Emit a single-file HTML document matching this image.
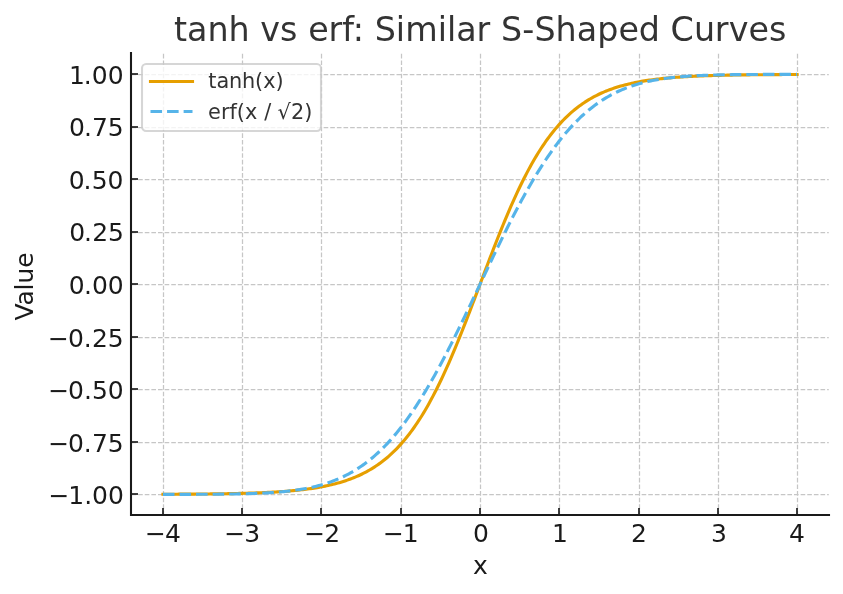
<!DOCTYPE html>
<html lang="en"><head><meta charset="utf-8"><title>tanh vs erf: Similar S-Shaped Curves</title>
<style>html,body{margin:0;padding:0;background:#fff}svg{display:block}</style></head>
<body>
<svg width="843" height="594" viewBox="0 0 843 594" font-family="'DejaVu Sans', 'Liberation Sans', sans-serif">
<rect width="843" height="594" fill="#fff"/>
<g fill="none" stroke="#c6c6c6" stroke-width="1.25" stroke-dasharray="4.625 2">
<path d="M163.5 515.5V53.5"/>
<path d="M242.5 515.5V53.5"/>
<path d="M321.5 515.5V53.5"/>
<path d="M401.5 515.5V53.5"/>
<path d="M480.5 515.5V53.5"/>
<path d="M559.5 515.5V53.5"/>
<path d="M639.5 515.5V53.5"/>
<path d="M718.5 515.5V53.5"/>
<path d="M797.5 515.5V53.5"/>
<path d="M131.5 494.5H828.75"/>
<path d="M131.5 442.5H828.75"/>
<path d="M131.5 389.5H828.75"/>
<path d="M131.5 337.5H828.75"/>
<path d="M131.5 284.5H828.75"/>
<path d="M131.5 232.5H828.75"/>
<path d="M131.5 179.5H828.75"/>
<path d="M131.5 127.5H828.75"/>
<path d="M131.5 74.5H828.75"/>
</g>
<g fill="none" stroke="#1a1a1a" stroke-width="1.667">
<path d="M163 515v-7"/>
<path d="M242 515v-7"/>
<path d="M321 515v-7"/>
<path d="M401 515v-7"/>
<path d="M480 515v-7"/>
<path d="M559 515v-7"/>
<path d="M639 515v-7"/>
<path d="M718 515v-7"/>
<path d="M797 515v-7"/>
<path d="M131 494h7"/>
<path d="M131 442h7"/>
<path d="M131 389h7"/>
<path d="M131 337h7"/>
<path d="M131 284h7"/>
<path d="M131 232h7"/>
<path d="M131 179h7"/>
<path d="M131 127h7"/>
<path d="M131 74h7"/>
</g>
<path d="M162.95 494.25 L164.54 494.24 L166.13 494.24 L167.72 494.23 L169.31 494.22 L170.90 494.22 L172.49 494.21 L174.08 494.20 L175.67 494.19 L177.26 494.19 L178.85 494.18 L180.44 494.17 L182.02 494.16 L183.61 494.15 L185.20 494.14 L186.79 494.13 L188.38 494.12 L189.97 494.11 L191.56 494.10 L193.15 494.09 L194.74 494.07 L196.33 494.06 L197.92 494.05 L199.51 494.03 L201.10 494.02 L202.68 494.00 L204.27 493.99 L205.86 493.97 L207.45 493.96 L209.04 493.94 L210.63 493.92 L212.22 493.90 L213.81 493.88 L215.40 493.86 L216.99 493.84 L218.58 493.82 L220.17 493.79 L221.75 493.77 L223.34 493.74 L224.93 493.72 L226.52 493.69 L228.11 493.66 L229.70 493.63 L231.29 493.60 L232.88 493.57 L234.47 493.53 L236.06 493.50 L237.65 493.46 L239.24 493.42 L240.83 493.39 L242.41 493.34 L244.00 493.30 L245.59 493.26 L247.18 493.21 L248.77 493.16 L250.36 493.11 L251.95 493.06 L253.54 493.01 L255.13 492.95 L256.72 492.89 L258.31 492.83 L259.90 492.77 L261.48 492.70 L263.07 492.63 L264.66 492.56 L266.25 492.49 L267.84 492.41 L269.43 492.33 L271.02 492.25 L272.61 492.16 L274.20 492.07 L275.79 491.97 L277.38 491.88 L278.97 491.77 L280.56 491.67 L282.14 491.56 L283.73 491.44 L285.32 491.32 L286.91 491.20 L288.50 491.07 L290.09 490.93 L291.68 490.79 L293.27 490.65 L294.86 490.49 L296.45 490.34 L298.04 490.17 L299.63 490.00 L301.21 489.82 L302.80 489.64 L304.39 489.45 L305.98 489.25 L307.57 489.04 L309.16 488.82 L310.75 488.60 L312.34 488.37 L313.93 488.12 L315.52 487.87 L317.11 487.61 L318.70 487.34 L320.29 487.05 L321.87 486.76 L323.46 486.45 L325.05 486.13 L326.64 485.80 L328.23 485.46 L329.82 485.10 L331.41 484.73 L333.00 484.35 L334.59 483.94 L336.18 483.53 L337.77 483.10 L339.36 482.65 L340.94 482.18 L342.53 481.70 L344.12 481.19 L345.71 480.67 L347.30 480.13 L348.89 479.57 L350.48 478.98 L352.07 478.38 L353.66 477.75 L355.25 477.09 L356.84 476.42 L358.43 475.71 L360.02 474.98 L361.60 474.23 L363.19 473.45 L364.78 472.63 L366.37 471.79 L367.96 470.92 L369.55 470.01 L371.14 469.08 L372.73 468.11 L374.32 467.10 L375.91 466.06 L377.50 464.98 L379.09 463.86 L380.67 462.71 L382.26 461.52 L383.85 460.28 L385.44 459.00 L387.03 457.68 L388.62 456.31 L390.21 454.90 L391.80 453.44 L393.39 451.94 L394.98 450.38 L396.57 448.78 L398.16 447.12 L399.75 445.41 L401.33 443.65 L402.92 441.84 L404.51 439.97 L406.10 438.04 L407.69 436.05 L409.28 434.01 L410.87 431.91 L412.46 429.74 L414.05 427.52 L415.64 425.23 L417.23 422.88 L418.82 420.47 L420.40 418.00 L421.99 415.46 L423.58 412.86 L425.17 410.19 L426.76 407.46 L428.35 404.66 L429.94 401.80 L431.53 398.87 L433.12 395.88 L434.71 392.83 L436.30 389.71 L437.89 386.52 L439.48 383.28 L441.06 379.97 L442.65 376.60 L444.24 373.17 L445.83 369.69 L447.42 366.14 L449.01 362.54 L450.60 358.89 L452.19 355.18 L453.78 351.42 L455.37 347.62 L456.96 343.77 L458.55 339.87 L460.13 335.93 L461.72 331.96 L463.31 327.95 L464.90 323.90 L466.49 319.82 L468.08 315.72 L469.67 311.59 L471.26 307.44 L472.85 303.27 L474.44 299.09 L476.03 294.89 L477.62 290.69 L479.21 286.48 L480.79 282.27 L482.38 278.06 L483.97 273.86 L485.56 269.66 L487.15 265.48 L488.74 261.31 L490.33 257.16 L491.92 253.03 L493.51 248.93 L495.10 244.85 L496.69 240.80 L498.28 236.79 L499.87 232.82 L501.45 228.88 L503.04 224.98 L504.63 221.13 L506.22 217.33 L507.81 213.57 L509.40 209.86 L510.99 206.21 L512.58 202.61 L514.17 199.06 L515.76 195.58 L517.35 192.15 L518.94 188.78 L520.52 185.47 L522.11 182.23 L523.70 179.04 L525.29 175.92 L526.88 172.87 L528.47 169.88 L530.06 166.95 L531.65 164.09 L533.24 161.29 L534.83 158.56 L536.42 155.89 L538.01 153.29 L539.60 150.75 L541.18 148.28 L542.77 145.87 L544.36 143.52 L545.95 141.23 L547.54 139.01 L549.13 136.84 L550.72 134.74 L552.31 132.70 L553.90 130.71 L555.49 128.78 L557.08 126.91 L558.67 125.10 L560.25 123.34 L561.84 121.63 L563.43 119.97 L565.02 118.37 L566.61 116.81 L568.20 115.31 L569.79 113.85 L571.38 112.44 L572.97 111.07 L574.56 109.75 L576.15 108.47 L577.74 107.23 L579.33 106.04 L580.91 104.89 L582.50 103.77 L584.09 102.69 L585.68 101.65 L587.27 100.64 L588.86 99.67 L590.45 98.74 L592.04 97.83 L593.63 96.96 L595.22 96.12 L596.81 95.30 L598.40 94.52 L599.98 93.77 L601.57 93.04 L603.16 92.33 L604.75 91.66 L606.34 91.00 L607.93 90.37 L609.52 89.77 L611.11 89.18 L612.70 88.62 L614.29 88.08 L615.88 87.56 L617.47 87.05 L619.06 86.57 L620.64 86.10 L622.23 85.65 L623.82 85.22 L625.41 84.81 L627.00 84.40 L628.59 84.02 L630.18 83.65 L631.77 83.29 L633.36 82.95 L634.95 82.62 L636.54 82.30 L638.13 81.99 L639.71 81.70 L641.30 81.41 L642.89 81.14 L644.48 80.88 L646.07 80.63 L647.66 80.38 L649.25 80.15 L650.84 79.93 L652.43 79.71 L654.02 79.50 L655.61 79.30 L657.20 79.11 L658.79 78.93 L660.37 78.75 L661.96 78.58 L663.55 78.41 L665.14 78.26 L666.73 78.10 L668.32 77.96 L669.91 77.82 L671.50 77.68 L673.09 77.55 L674.68 77.43 L676.27 77.31 L677.86 77.19 L679.44 77.08 L681.03 76.98 L682.62 76.87 L684.21 76.78 L685.80 76.68 L687.39 76.59 L688.98 76.50 L690.57 76.42 L692.16 76.34 L693.75 76.26 L695.34 76.19 L696.93 76.12 L698.52 76.05 L700.10 75.98 L701.69 75.92 L703.28 75.86 L704.87 75.80 L706.46 75.74 L708.05 75.69 L709.64 75.64 L711.23 75.59 L712.82 75.54 L714.41 75.49 L716.00 75.45 L717.59 75.41 L719.17 75.36 L720.76 75.33 L722.35 75.29 L723.94 75.25 L725.53 75.22 L727.12 75.18 L728.71 75.15 L730.30 75.12 L731.89 75.09 L733.48 75.06 L735.07 75.03 L736.66 75.01 L738.25 74.98 L739.83 74.96 L741.42 74.93 L743.01 74.91 L744.60 74.89 L746.19 74.87 L747.78 74.85 L749.37 74.83 L750.96 74.81 L752.55 74.79 L754.14 74.78 L755.73 74.76 L757.32 74.75 L758.90 74.73 L760.49 74.72 L762.08 74.70 L763.67 74.69 L765.26 74.68 L766.85 74.66 L768.44 74.65 L770.03 74.64 L771.62 74.63 L773.21 74.62 L774.80 74.61 L776.39 74.60 L777.98 74.59 L779.56 74.58 L781.15 74.57 L782.74 74.56 L784.33 74.56 L785.92 74.55 L787.51 74.54 L789.10 74.53 L790.69 74.53 L792.28 74.52 L793.87 74.51 L795.46 74.51 L797.05 74.50" fill="none" stroke="#e69f00" stroke-width="3.125" stroke-linecap="square" stroke-linejoin="round"/>
<path d="M162.95 494.37 L164.54 494.37 L166.13 494.37 L167.72 494.37 L169.31 494.37 L170.90 494.37 L172.49 494.37 L174.08 494.36 L175.67 494.36 L177.26 494.36 L178.85 494.36 L180.44 494.36 L182.02 494.35 L183.61 494.35 L185.20 494.35 L186.79 494.34 L188.38 494.34 L189.97 494.34 L191.56 494.33 L193.15 494.33 L194.74 494.32 L196.33 494.32 L197.92 494.31 L199.51 494.30 L201.10 494.30 L202.68 494.29 L204.27 494.28 L205.86 494.27 L207.45 494.27 L209.04 494.26 L210.63 494.25 L212.22 494.24 L213.81 494.22 L215.40 494.21 L216.99 494.20 L218.58 494.18 L220.17 494.17 L221.75 494.15 L223.34 494.14 L224.93 494.12 L226.52 494.10 L228.11 494.08 L229.70 494.05 L231.29 494.03 L232.88 494.01 L234.47 493.98 L236.06 493.95 L237.65 493.92 L239.24 493.89 L240.83 493.85 L242.41 493.82 L244.00 493.78 L245.59 493.74 L247.18 493.69 L248.77 493.65 L250.36 493.60 L251.95 493.55 L253.54 493.49 L255.13 493.43 L256.72 493.37 L258.31 493.31 L259.90 493.24 L261.48 493.16 L263.07 493.09 L264.66 493.00 L266.25 492.92 L267.84 492.83 L269.43 492.73 L271.02 492.63 L272.61 492.52 L274.20 492.41 L275.79 492.29 L277.38 492.17 L278.97 492.04 L280.56 491.90 L282.14 491.75 L283.73 491.60 L285.32 491.44 L286.91 491.27 L288.50 491.09 L290.09 490.91 L291.68 490.71 L293.27 490.51 L294.86 490.29 L296.45 490.07 L298.04 489.83 L299.63 489.59 L301.21 489.33 L302.80 489.06 L304.39 488.78 L305.98 488.48 L307.57 488.17 L309.16 487.85 L310.75 487.51 L312.34 487.16 L313.93 486.80 L315.52 486.41 L317.11 486.02 L318.70 485.60 L320.29 485.17 L321.87 484.72 L323.46 484.25 L325.05 483.76 L326.64 483.26 L328.23 482.73 L329.82 482.18 L331.41 481.61 L333.00 481.02 L334.59 480.41 L336.18 479.77 L337.77 479.11 L339.36 478.43 L340.94 477.72 L342.53 476.99 L344.12 476.23 L345.71 475.44 L347.30 474.63 L348.89 473.79 L350.48 472.92 L352.07 472.02 L353.66 471.09 L355.25 470.13 L356.84 469.14 L358.43 468.12 L360.02 467.07 L361.60 465.99 L363.19 464.87 L364.78 463.72 L366.37 462.53 L367.96 461.31 L369.55 460.06 L371.14 458.77 L372.73 457.44 L374.32 456.08 L375.91 454.68 L377.50 453.24 L379.09 451.77 L380.67 450.25 L382.26 448.70 L383.85 447.11 L385.44 445.48 L387.03 443.81 L388.62 442.10 L390.21 440.36 L391.80 438.57 L393.39 436.74 L394.98 434.87 L396.57 432.96 L398.16 431.01 L399.75 429.01 L401.33 426.98 L402.92 424.91 L404.51 422.79 L406.10 420.64 L407.69 418.44 L409.28 416.21 L410.87 413.93 L412.46 411.61 L414.05 409.26 L415.64 406.86 L417.23 404.42 L418.82 401.95 L420.40 399.44 L421.99 396.88 L423.58 394.30 L425.17 391.67 L426.76 389.01 L428.35 386.31 L429.94 383.57 L431.53 380.80 L433.12 378.00 L434.71 375.16 L436.30 372.29 L437.89 369.39 L439.48 366.46 L441.06 363.49 L442.65 360.50 L444.24 357.48 L445.83 354.43 L447.42 351.36 L449.01 348.26 L450.60 345.13 L452.19 341.99 L453.78 338.82 L455.37 335.62 L456.96 332.41 L458.55 329.18 L460.13 325.94 L461.72 322.67 L463.31 319.39 L464.90 316.10 L466.49 312.80 L468.08 309.48 L469.67 306.15 L471.26 302.82 L472.85 299.47 L474.44 296.12 L476.03 292.77 L477.62 289.41 L479.21 286.05 L480.79 282.70 L482.38 279.34 L483.97 275.98 L485.56 272.63 L487.15 269.28 L488.74 265.93 L490.33 262.60 L491.92 259.27 L493.51 255.95 L495.10 252.65 L496.69 249.36 L498.28 246.08 L499.87 242.81 L501.45 239.57 L503.04 236.34 L504.63 233.13 L506.22 229.93 L507.81 226.76 L509.40 223.62 L510.99 220.49 L512.58 217.39 L514.17 214.32 L515.76 211.27 L517.35 208.25 L518.94 205.26 L520.52 202.29 L522.11 199.36 L523.70 196.46 L525.29 193.59 L526.88 190.75 L528.47 187.95 L530.06 185.18 L531.65 182.44 L533.24 179.74 L534.83 177.08 L536.42 174.45 L538.01 171.87 L539.60 169.31 L541.18 166.80 L542.77 164.33 L544.36 161.89 L545.95 159.49 L547.54 157.14 L549.13 154.82 L550.72 152.54 L552.31 150.31 L553.90 148.11 L555.49 145.96 L557.08 143.84 L558.67 141.77 L560.25 139.74 L561.84 137.74 L563.43 135.79 L565.02 133.88 L566.61 132.01 L568.20 130.18 L569.79 128.39 L571.38 126.65 L572.97 124.94 L574.56 123.27 L576.15 121.64 L577.74 120.05 L579.33 118.50 L580.91 116.98 L582.50 115.51 L584.09 114.07 L585.68 112.67 L587.27 111.31 L588.86 109.98 L590.45 108.69 L592.04 107.44 L593.63 106.22 L595.22 105.03 L596.81 103.88 L598.40 102.76 L599.98 101.68 L601.57 100.63 L603.16 99.61 L604.75 98.62 L606.34 97.66 L607.93 96.73 L609.52 95.83 L611.11 94.96 L612.70 94.12 L614.29 93.31 L615.88 92.52 L617.47 91.76 L619.06 91.03 L620.64 90.32 L622.23 89.64 L623.82 88.98 L625.41 88.34 L627.00 87.73 L628.59 87.14 L630.18 86.57 L631.77 86.02 L633.36 85.49 L634.95 84.99 L636.54 84.50 L638.13 84.03 L639.71 83.58 L641.30 83.15 L642.89 82.73 L644.48 82.34 L646.07 81.95 L647.66 81.59 L649.25 81.24 L650.84 80.90 L652.43 80.58 L654.02 80.27 L655.61 79.97 L657.20 79.69 L658.79 79.42 L660.37 79.16 L661.96 78.92 L663.55 78.68 L665.14 78.46 L666.73 78.24 L668.32 78.04 L669.91 77.84 L671.50 77.66 L673.09 77.48 L674.68 77.31 L676.27 77.15 L677.86 77.00 L679.44 76.85 L681.03 76.71 L682.62 76.58 L684.21 76.46 L685.80 76.34 L687.39 76.23 L688.98 76.12 L690.57 76.02 L692.16 75.92 L693.75 75.83 L695.34 75.75 L696.93 75.66 L698.52 75.59 L700.10 75.51 L701.69 75.44 L703.28 75.38 L704.87 75.32 L706.46 75.26 L708.05 75.20 L709.64 75.15 L711.23 75.10 L712.82 75.06 L714.41 75.01 L716.00 74.97 L717.59 74.93 L719.17 74.90 L720.76 74.86 L722.35 74.83 L723.94 74.80 L725.53 74.77 L727.12 74.74 L728.71 74.72 L730.30 74.70 L731.89 74.67 L733.48 74.65 L735.07 74.63 L736.66 74.61 L738.25 74.60 L739.83 74.58 L741.42 74.57 L743.01 74.55 L744.60 74.54 L746.19 74.53 L747.78 74.51 L749.37 74.50 L750.96 74.49 L752.55 74.48 L754.14 74.48 L755.73 74.47 L757.32 74.46 L758.90 74.45 L760.49 74.45 L762.08 74.44 L763.67 74.43 L765.26 74.43 L766.85 74.42 L768.44 74.42 L770.03 74.41 L771.62 74.41 L773.21 74.41 L774.80 74.40 L776.39 74.40 L777.98 74.40 L779.56 74.39 L781.15 74.39 L782.74 74.39 L784.33 74.39 L785.92 74.39 L787.51 74.38 L789.10 74.38 L790.69 74.38 L792.28 74.38 L793.87 74.38 L795.46 74.38 L797.05 74.38" fill="none" stroke="#56b4e9" stroke-width="3.125" stroke-dasharray="11.562 5" stroke-dashoffset="0" stroke-linejoin="round"/>
<path d="M131 53V515H829" fill="none" stroke="#1a1a1a" stroke-width="2.083" stroke-linecap="square" stroke-linejoin="miter"/>
<rect x="142" y="64" width="179" height="67" rx="4.167" fill="#fff" stroke="#cccccc" stroke-width="2.083" opacity="0.8"/>
<path d="M150.5 81.5H192.5" stroke="#e69f00" stroke-width="3.125" stroke-linecap="square"/>
<path d="M150.5 111.5H192.5" stroke="#56b4e9" stroke-width="3.125" stroke-dasharray="11.562 5"/>
<text id="xt0" x="163.257" y="542" dx="-0.341 -1.082" font-size="25px" fill="#1a1a1a" text-anchor="middle">−4</text>
<text id="xt1" x="241.358" y="542" dx="0.825 -1.157" font-size="25px" fill="#1a1a1a" text-anchor="middle">−3</text>
<text id="xt2" x="322.053" y="542" dx="0.17 -1.059" font-size="25px" fill="#1a1a1a" text-anchor="middle">−2</text>
<text id="xt3" x="400.365" y="542" dx="0.464 -0.998" font-size="25px" fill="#1a1a1a" text-anchor="middle">−1</text>
<text id="xt4" x="480.887" y="542" dx="-0.03" font-size="25px" fill="#1a1a1a" text-anchor="middle">0</text>
<text id="xt5" x="560.063" y="542" dx="-0.135" font-size="25px" fill="#1a1a1a" text-anchor="middle">1</text>
<text id="xt6" x="638.91" y="542" dx="0.09" font-size="25px" fill="#1a1a1a" text-anchor="middle">2</text>
<text id="xt7" x="718.818" y="542" dx="0.137" font-size="25px" fill="#1a1a1a" text-anchor="middle">3</text>
<text id="xt8" x="797.531" y="542" dx="-0.625" font-size="25px" fill="#1a1a1a" text-anchor="middle">4</text>
<text id="yt0" x="124.406" y="504" dx="-0.546 -1.177 0.015 -0.092 0.004" font-size="25px" fill="#1a1a1a" text-anchor="end">−1.00</text>
<text id="yt1" x="122.964" y="452" dx="0.746 -1.304 -0.087 0.113 0.008" font-size="25px" fill="#1a1a1a" text-anchor="end">−0.75</text>
<text id="yt2" x="123.143" y="399" dx="0.403 -1.198 0.062 0.027 -0.233" font-size="25px" fill="#1a1a1a" text-anchor="end">−0.50</text>
<text id="yt3" x="122.916" y="347" dx="0.833 -1.112 -0.217 0.284 0.046" font-size="25px" fill="#1a1a1a" text-anchor="end">−0.25</text>
<text id="yt4" x="123.844" y="294" dx="-0.291 -0.894 0.135 -0.231" font-size="25px" fill="#1a1a1a" text-anchor="end">0.00</text>
<text id="yt5" x="123.362" y="241" dx="0.438 -1.137 0.168 -0.191" font-size="25px" fill="#1a1a1a" text-anchor="end">0.25</text>
<text id="yt6" x="123.928" y="189" dx="-0.585 -1.086 0.218 -0.219" font-size="25px" fill="#1a1a1a" text-anchor="end">0.50</text>
<text id="yt7" x="122.924" y="136" dx="0.72 -0.994 0.208 -0.209" font-size="25px" fill="#1a1a1a" text-anchor="end">0.75</text>
<text id="yt8" x="124.035" y="84" dx="-0.358 -0.976 0.061 0.015" font-size="25px" fill="#1a1a1a" text-anchor="end">1.00</text>
<text id="xlabel" x="480.448" y="574" dx="0.03" font-size="25px" fill="#1a1a1a" text-anchor="middle">x</text>
<text id="ylabel" transform="translate(33.055 285.643) rotate(-90)" dx="-0.846 0 -0.512 0.199 -0.236" font-size="25px" fill="#1a1a1a" text-anchor="middle">Value</text>
<text id="title" x="479.938" y="41" dx="0.211 -0.205 0.059 -0.072 0 0.116 -0.073 0 0.212 -0.08 0 -0.025 0 0.06 -0.043 0.035 0.217 -0 -0.139 -0.061 0 0.155 0.102 0.148 -0.116 -0.019 0.156 0.031 -0.079 0 -0.072 0.111 -0.239 0.346 -0.061 -0.153" font-size="33.333px" fill="#333333" text-anchor="middle">tanh vs erf: Similar S-Shaped Curves</text>
<text id="leg1" x="207.86" y="88" dx="0.356 0 -0.198 -0.05 -0.29 0.011 0.074" font-size="20.833px" fill="#333333" text-anchor="start">tanh(x)</text>
<text id="leg2" x="206.94" y="119" dx="1.166 0.012 0 0 -0.104 0 0.271 0 -0.172 0.042 -0.076" font-size="20.833px" fill="#333333" text-anchor="start">erf(x / √2)</text>
</svg>
</body></html>
